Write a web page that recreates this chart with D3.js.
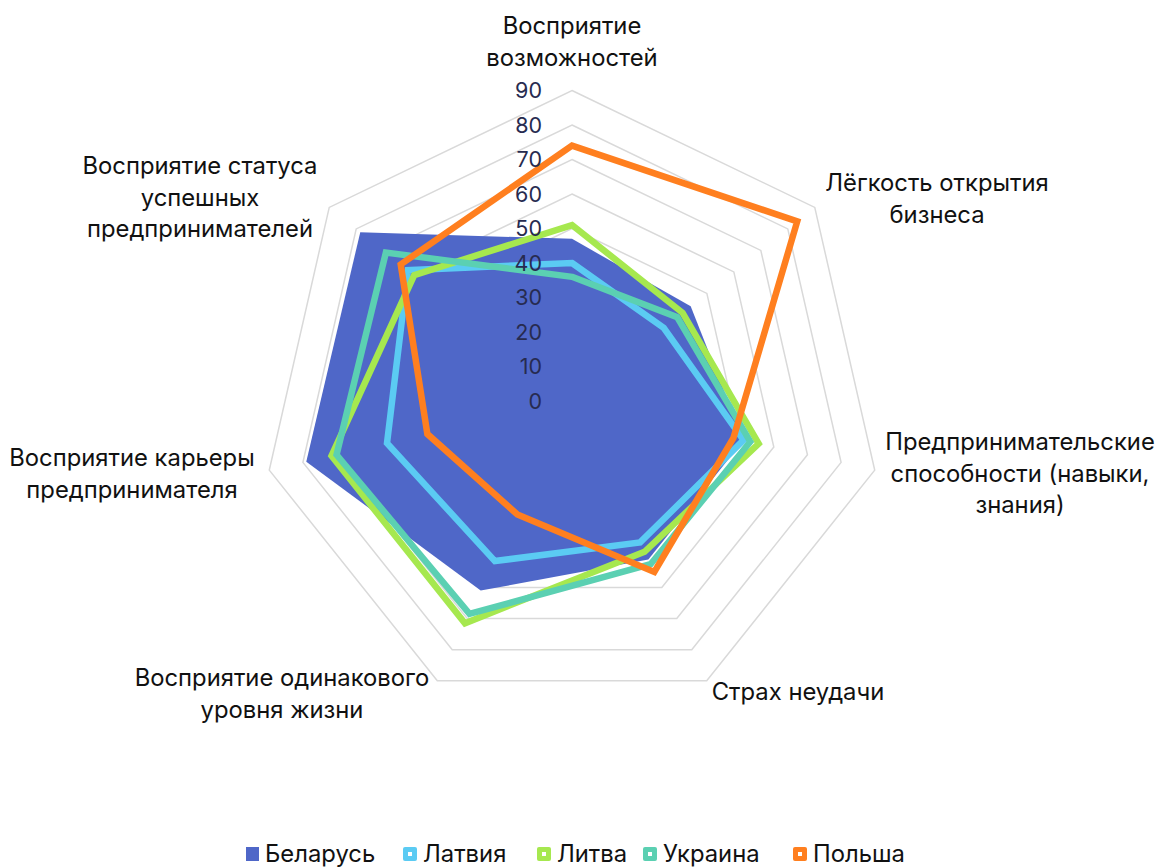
<!DOCTYPE html>
<html><head><meta charset="utf-8">
<script src="https://cdn.jsdelivr.net/npm/d3@7"></script>
<style>
html,body{margin:0;padding:0;background:#fff;}
svg{display:block;font-family:Inter,"Noto Sans",sans-serif;}
</style></head>
<body><svg id="chart" width="1158" height="867"></svg>
<script>
const categories = [
  ["Восприятие","возможностей"],
  ["Лёгкость открытия","бизнеса"],
  ["Предпринимательские","способности (навыки,","знания)"],
  ["Страх неудачи"],
  ["Восприятие одинакового","уровня жизни"],
  ["Восприятие карьеры","предпринимателя"],
  ["Восприятие статуса","успешных","предпринимателей"]
];
const seriesNames = ["Беларусь","Латвия","Литва","Украина","Польша"];
const belarus   = [47, 44, 51, 51, 61, 79, 78.5];
const latvia    = [40, 34, 51, 45.5, 51.5, 55, 60.8];
const lithuania = [51, 41, 55.5, 48.5, 71.5, 71.5, 58.5];
const ukraine   = [36, 39, 53, 52.5, 68.5, 70, 69];
const poland    = [74, 83.5, 48, 55, 36.5, 43, 63.5];
const tickValues = [0,10,20,30,40,50,60,70,80,90];
const colors = ["#4F67C8","#5BCBF3","#A6E84F","#5BD0B2","#FF7F1F"];

const svg = d3.select("#chart");
const cx = 572, cy = 401;
const r = d3.scaleLinear().domain([0,90]).range([0,310.5]);
const n = categories.length;
const ang = d3.scaleLinear().domain([0,n]).range([0,2*Math.PI]);

const g = svg.append("g").attr("transform",`translate(${cx},${cy})`);

const ring = d3.lineRadial().angle((d,i)=>ang(i)).radius(d=>r(d)).curve(d3.curveLinearClosed);
tickValues.filter(t=>t>0).forEach(t=>{
  g.append("path").attr("d", ring(d3.range(n).map(()=>t)))
   .attr("fill","none").attr("stroke","#d9d9d9").attr("stroke-width",1.5);
});

const line = d3.lineRadial().angle((d,i)=>ang(i)).radius(d=>r(d)).curve(d3.curveLinearClosed);
const allSeries = [belarus, latvia, lithuania, ukraine, poland];

g.append("path").attr("d", line(belarus)).attr("fill",colors[0]).attr("stroke","none");
allSeries.slice(1).forEach((s,k)=>{
  g.append("path").attr("d", line(s)).attr("fill","none")
   .attr("stroke",colors[k+1]).attr("stroke-width",6.5).attr("stroke-linejoin","miter");
});

tickValues.forEach(t=>{
  g.append("text").attr("x",-30).attr("y",-r(t)).attr("dy","0.35em")
   .attr("text-anchor","end").attr("font-size",21.5).attr("fill","#272B50").text(t);
});

const labelPos = [
  [572, 26], [937, 183], [1020, 442], [798, 692], [282, 678], [132, 458], [200, 166]
];
categories.forEach((lines,i)=>{
  const t = svg.append("text").attr("text-anchor","middle").attr("font-size",23.8).attr("fill","#111");
  lines.forEach((ln,j)=>{
    t.append("tspan").attr("x",labelPos[i][0]).attr("y",labelPos[i][1]+j*31.5).attr("dy","0.35em").text(ln);
  });
});

const legendX = [246, 403, 537, 643, 793];
const ly = 854;
seriesNames.forEach((name,i)=>{
  const lg = svg.append("g");
  if(i===0){
    lg.append("rect").attr("x",legendX[i]).attr("y",ly-7).attr("width",13).attr("height",14).attr("fill",colors[i]);
  } else {
    lg.append("rect").attr("x",legendX[i]).attr("y",ly-7).attr("width",14).attr("height",14).attr("rx",2).attr("fill",colors[i]);
    lg.append("rect").attr("x",legendX[i]+5).attr("y",ly-2).attr("width",4).attr("height",4).attr("fill","#fff");
  }
  lg.append("text").attr("x",legendX[i]+(i===0?19:20)).attr("y",ly).attr("dy","0.35em")
    .attr("font-size",23.8).attr("fill","#111").text(name);
});
</script>
</body></html>
